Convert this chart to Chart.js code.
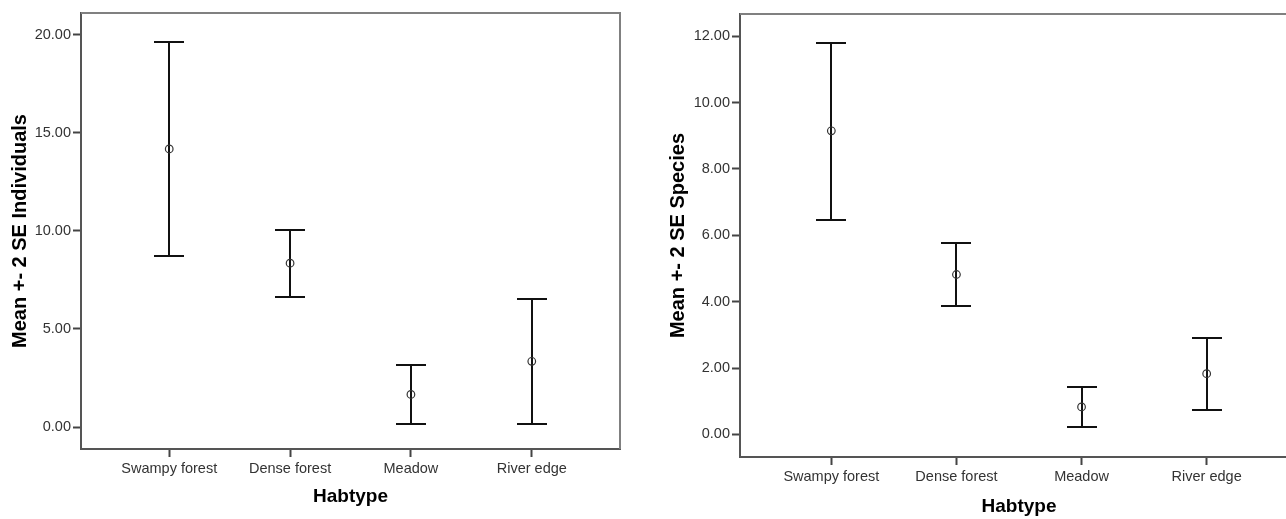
<!DOCTYPE html>
<html>
<head>
<meta charset="utf-8">
<script src="https://cdn.jsdelivr.net/npm/chart.js@4"></script>
<style>
  html, body { margin: 0; padding: 0; background: #fff; overflow: hidden; width: 1286px; height: 519px; }
  #left { position: absolute; left: 0; top: 0; width: 640px; height: 519px; }
  #right { position: absolute; left: 640px; top: 0; width: 672px; height: 519px; }
</style>
</head>
<body>
<div id="left"><canvas id="chartInd"></canvas></div>
<div id="right"><canvas id="chartSp"></canvas></div>
<script>
var habtypes = ['Swampy forest', 'Dense forest', 'Meadow', 'River edge'];

// Mean +- 2 SE Individuals
var indMean = [14.17, 8.35, 1.66, 3.35];
var indLow  = [8.72, 6.65, 0.14, 0.14];
var indHigh = [19.61, 10.02, 3.18, 6.51];
var indTicks = [0, 5, 10, 15, 20];

// Mean +- 2 SE Species
var spMean = [9.15, 4.82, 0.83, 1.83];
var spLow  = [6.47, 3.87, 0.21, 0.74];
var spHigh = [11.80, 5.77, 1.44, 2.92];
var spTicks = [0, 2, 4, 6, 8, 10, 12];

Chart.defaults.font.family = 'Arial, "Liberation Sans", sans-serif';

function errorBars(low, high) {
  return {
    id: 'errorBars',
    beforeDatasetsDraw: function(chart) {
      var x = chart.scales.x, y = chart.scales.y, ctx = chart.ctx;
      var a = chart.chartArea;
      ctx.save();
      // top and right frame
      ctx.strokeStyle = '#808080';
      ctx.lineWidth = 2;
      ctx.beginPath();
      ctx.moveTo(a.left, a.top);
      ctx.lineTo(a.right, a.top);
      ctx.lineTo(a.right, a.bottom);
      ctx.stroke();
      // whiskers
      ctx.strokeStyle = '#111';
      ctx.lineWidth = 2;
      for (var i = 0; i < low.length; i++) {
        var px = Math.round(x.getPixelForValue(i));
        var p1 = Math.round(y.getPixelForValue(low[i]));
        var p2 = Math.round(y.getPixelForValue(high[i]));
        ctx.beginPath();
        ctx.moveTo(px, p1); ctx.lineTo(px, p2);
        ctx.moveTo(px - 15, p1); ctx.lineTo(px + 15, p1);
        ctx.moveTo(px - 15, p2); ctx.lineTo(px + 15, p2);
        ctx.stroke();
      }
      ctx.restore();
    }
  };
}

function makeChart(id, cfg) {
  return new Chart(document.getElementById(id), {
    type: 'scatter',
    data: {
      datasets: [{
        data: cfg.mean.map(function(m, i) { return {x: i, y: m}; }),
        pointRadius: 3.8,
        pointHoverRadius: 3.8,
        pointBorderColor: '#333',
        pointBackgroundColor: 'rgba(0,0,0,0)',
        pointBorderWidth: 1.2,
        showLine: false,
        clip: false
      }]
    },
    plugins: [errorBars(cfg.low, cfg.high)],
    options: {
      responsive: true,
      maintainAspectRatio: false,
      animation: false,
      layout: { padding: cfg.padding },
      plugins: { legend: { display: false }, tooltip: { enabled: false } },
      scales: {
        x: {
          type: 'linear',
          min: -0.73,
          max: 3.73,
          afterBuildTicks: function(s) { s.ticks = habtypes.map(function(c, i) { return {value: i}; }); },
          afterFit: function(s) { s.height = cfg.xHeight; },
          ticks: {
            callback: function(v) { return habtypes[v]; },
            autoSkip: false, maxRotation: 0, padding: 3,
            color: '#333', font: { size: 14.5 }
          },
          grid: { drawOnChartArea: false, tickLength: 8, tickColor: '#444', tickWidth: 2 },
          border: { color: '#555', width: 2 },
          title: {
            display: true, text: 'Habtype', color: '#000',
            font: { size: 19, weight: 'bold' },
            padding: { top: 0, bottom: cfg.xTitlePad }
          }
        },
        y: {
          min: cfg.yMin,
          max: cfg.yMax,
          afterBuildTicks: function(s) { s.ticks = cfg.ticks.map(function(v) { return {value: v}; }); },
          afterFit: function(s) { s.width = cfg.yWidth; },
          ticks: {
            callback: function(v) { return v.toFixed(2); },
            padding: 2, color: '#333', font: { size: 14.5 }
          },
          grid: { drawOnChartArea: false, tickLength: 8, tickColor: '#444', tickWidth: 2 },
          border: { color: '#555', width: 2 },
          title: {
            display: true, text: cfg.yTitle, color: '#000',
            font: { size: 20, weight: 'bold' },
            padding: { top: 8, bottom: 0 }
          }
        }
      }
    }
  });
}

makeChart('chartInd', {
  mean: indMean, low: indLow, high: indHigh, ticks: indTicks,
  yMin: -1.12, yMax: 21.1, yTitle: 'Mean +- 2 SE Individuals',
  padding: { left: 0, top: 13, right: 20, bottom: 0 },
  yWidth: 81, xHeight: 70, xTitlePad: 11
});

makeChart('chartSp', {
  mean: spMean, low: spLow, high: spHigh, ticks: spTicks,
  yMin: -0.68, yMax: 12.67, yTitle: 'Mean +- 2 SE Species',
  padding: { left: 18, top: 14, right: 14, bottom: 0 },
  yWidth: 82, xHeight: 62, xTitlePad: 1
});
</script>
</body>
</html>
